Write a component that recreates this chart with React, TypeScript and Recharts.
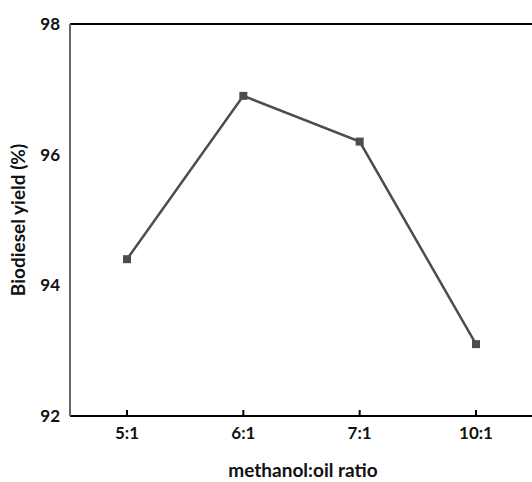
import { CartesianGrid, Line, LineChart, ReferenceLine, XAxis, YAxis } from "recharts";

const ratios = ["5:1", "6:1", "7:1", "10:1"];
const yieldValues = [94.4, 96.9, 96.2, 93.1];
const yTicks = [92, 94, 96, 98];

const chartData = ratios.map((ratio, i) => ({ ratio, yield: yieldValues[i] }));

const font = "Lato, 'Open Sans', sans-serif";
const lineColor = "#4d4d4d";

function SquareDot({ cx, cy }: { cx?: number; cy?: number }) {
  if (cx == null || cy == null) return null;
  return <rect x={cx - 4} y={cy - 4} width={8} height={8} fill={lineColor} />;
}

function RatioTick({ x, y, payload }: { x?: number; y?: number; payload?: { value: string } }) {
  if (x == null || y == null) return null;
  return (
    <g>
      <line x1={x} y1={y} x2={x} y2={y - 6} stroke="#000" strokeWidth={2} />
      <text x={x} y={y + 23} textAnchor="middle" fontFamily={font} fontWeight={700} fontSize={17} fill="#111">
        {payload?.value}
      </text>
    </g>
  );
}

export default function App() {
  return (
    <div style={{ position: "absolute", left: 0, top: 0, width: 532, height: 482, background: "#fff" }}>
      <LineChart
        width={532}
        height={482}
        data={chartData}
        margin={{ top: 24, right: -4, left: 0, bottom: 0 }}
      >
        <CartesianGrid stroke="none" />
        <XAxis
          dataKey="ratio"
          axisLine={{ stroke: "#000", strokeWidth: 2 }}
          tickLine={false}
          tickSize={0}
          tickMargin={0}
          tick={<RatioTick />}
          height={66}
          padding={{ left: 57, right: 60 }}
          label={{
            value: "methanol:oil ratio",
            position: "insideBottom",
            offset: 5,
            style: { fontFamily: font, fontWeight: 700, fontSize: 19, fill: "#111" },
          }}
        />
        <YAxis
          domain={[92, 98]}
          ticks={yTicks}
          width={70}
          axisLine={{ stroke: "#666", strokeWidth: 2 }}
          tickLine={false}
          tickMargin={4}
          tick={{ fontFamily: font, fontWeight: 700, fontSize: 17, fill: "#111" }}
          label={{
            value: "Biodiesel yield (%)",
            angle: -90,
            position: "insideLeft",
            offset: 18,
            style: { fontFamily: font, fontWeight: 700, fontSize: 19, fill: "#111", textAnchor: "middle" },
          }}
        />
        <ReferenceLine y={98} stroke="#000" strokeWidth={2} />
        <Line
          type="linear"
          dataKey="yield"
          stroke={lineColor}
          strokeWidth={2.5}
          dot={<SquareDot />}
          activeDot={false}
          isAnimationActive={false}
        />
      </LineChart>
    </div>
  );
}
